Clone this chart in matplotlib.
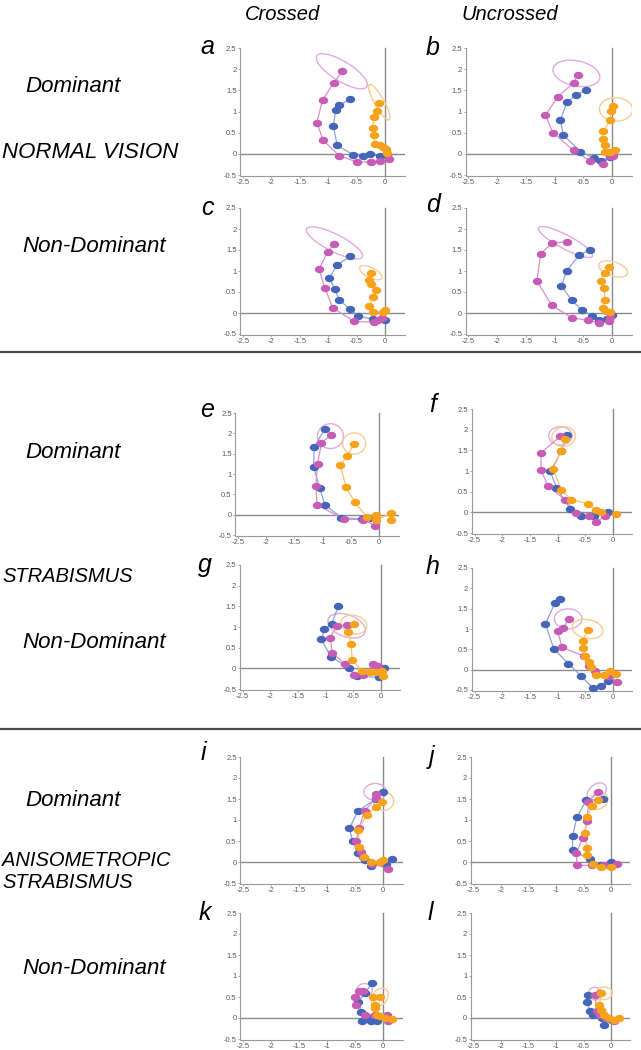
import matplotlib
matplotlib.use('Agg')
import matplotlib.pyplot as plt
from matplotlib.patches import Ellipse
import numpy as np

# ---------------- DATA ----------------
# each series: list of (x, y) in order from the origin outward
# ellipses: (cx, cy, width, height, angle)

a_blue = [(0.03, -0.03), (-0.09, -0.06), (-0.26, -0.01), (-0.38, -0.04), (-0.56, -0.02),
          (-0.84, 0.20), (-0.91, 0.65), (-0.87, 1.04), (-0.81, 1.15), (-0.62, 1.29)]
a_magenta = [(0.07, -0.13), (-0.08, -0.16), (-0.24, -0.20), (-0.50, -0.19), (-0.81, -0.04),
             (-1.09, 0.32), (-1.20, 0.74), (-1.10, 1.27), (-0.90, 1.68), (-0.75, 1.95)]
a_orange = [(0.03, 0.02), (0.02, 0.12), (-0.03, 0.16), (-0.09, 0.21), (-0.18, 0.23),
            (-0.19, 0.44), (-0.22, 0.62), (-0.19, 0.86), (-0.135, 1.02), (-0.10, 1.20)]
a_magenta_ell = (-0.76, 1.95, 1.15, 0.42, -42)
a_orange_ell = (-0.10, 1.22, 0.90, 0.18, -68)

b_blue = [(-0.04, -0.08), (-0.19, -0.16), (-0.32, -0.09), (-0.55, 0.05), (-0.85, 0.45),
          (-0.90, 0.80), (-0.78, 1.23), (-0.63, 1.38), (-0.45, 1.51)]
b_magenta = [(0.02, -0.04), (-0.04, -0.06), (-0.15, -0.23), (-0.38, -0.17), (-0.67, 0.08),
             (-1.03, 0.50), (-1.16, 0.92), (-0.94, 1.35), (-0.67, 1.68), (-0.60, 1.87)]
b_orange = [(0.05, 0.10), (-0.04, 0.05), (-0.12, 0.05), (-0.13, 0.21), (-0.16, 0.35),
            (-0.15, 0.55), (-0.03, 0.80), (-0.01, 1.01), (0.01, 1.12)]
b_magenta_ell = (-0.62, 1.90, 0.85, 0.58, -22)
b_orange_ell = (0.07, 1.05, 0.58, 0.55, -20)

c_blue = [(0.00, -0.16), (-0.22, -0.14), (-0.47, -0.08), (-0.62, 0.10), (-0.81, 0.32),
          (-0.88, 0.56), (-0.98, 0.83), (-0.85, 1.14), (-0.61, 1.35)]
c_magenta = [(-0.06, -0.13), (-0.13, -0.16), (-0.19, -0.22), (-0.54, -0.20), (-0.92, 0.12),
             (-1.06, 0.60), (-1.16, 1.04), (-1.01, 1.46), (-0.89, 1.64)]
c_orange = [(0.00, 0.08), (-0.03, 0.02), (-0.22, 0.02), (-0.28, 0.16), (-0.21, 0.38),
            (-0.15, 0.54), (-0.24, 0.69), (-0.29, 0.79), (-0.24, 0.95)]
c_magenta_ell = (-0.89, 1.67, 1.19, 0.38, -36)
c_orange_ell = (-0.25, 0.96, 0.47, 0.22, -38)

d_blue = [(0.00, -0.05), (-0.08, -0.14), (-0.22, -0.16), (-0.34, -0.06), (-0.52, 0.06),
          (-0.70, 0.30), (-0.88, 0.64), (-0.79, 1.01), (-0.57, 1.38), (-0.38, 1.51)]
d_magenta = [(-0.03, -0.10), (-0.06, -0.20), (-0.22, -0.24), (-0.42, -0.17), (-0.69, -0.12),
             (-1.05, 0.18), (-1.31, 0.77), (-1.24, 1.41), (-1.05, 1.66), (-0.79, 1.70)]
d_orange = [(-0.04, 0.03), (-0.10, 0.05), (-0.15, 0.11), (-0.12, 0.32), (-0.14, 0.59),
            (-0.19, 0.77), (-0.13, 0.96), (-0.05, 1.10)]
d_magenta_ell = (-0.81, 1.69, 1.16, 0.30, -37)
d_orange_ell = (0.02, 1.05, 0.55, 0.32, -30)

e_blue = [(-0.14, -0.09), (-0.30, -0.11), (-0.67, -0.07), (-0.96, 0.24), (-1.05, 0.65),
          (-1.16, 1.18), (-1.15, 1.66), (-0.96, 2.11)]
e_magenta = [(-0.07, -0.27), (-0.28, -0.12), (-0.62, -0.11), (-1.10, 0.24), (-1.12, 0.71),
             (-1.09, 1.24), (-1.02, 1.77), (-0.85, 1.96)]
e_orange = [(0.22, -0.14), (0.22, 0.04), (-0.06, -0.14), (-0.06, -0.02), (-0.22, -0.06),
            (-0.43, 0.31), (-0.58, 0.67), (-0.69, 1.22), (-0.56, 1.45), (-0.45, 1.73)]
e_magenta_ell = (-0.86, 1.93, 0.46, 0.61, 0)
e_orange_ell = (-0.44, 1.75, 0.41, 0.52, 0)

f_blue = [(-0.09, 0.02), (-0.34, -0.08), (-0.57, -0.10), (-0.77, 0.08), (-1.02, 0.59),
          (-1.13, 0.99), (-0.93, 1.49), (-0.83, 1.88)]
f_magenta = [(-0.15, -0.10), (-0.30, -0.23), (-0.43, -0.10), (-0.67, -0.02), (-0.87, 0.31),
             (-1.17, 0.63), (-1.30, 1.02), (-1.30, 1.44), (-0.95, 1.84)]
f_orange = [(0.06, -0.03), (-0.22, 0.02), (-0.31, 0.06), (-0.46, 0.21), (-0.75, 0.31),
            (-0.93, 0.53), (-1.08, 1.05), (-0.94, 1.49), (-0.86, 1.78)]
f_magenta_ell = (-0.95, 1.85, 0.42, 0.44, 0)
f_orange_ell = (-0.89, 1.83, 0.42, 0.48, -20)

g_blue = [(0.05, 0.00), (-0.04, -0.22), (-0.44, -0.19), (-0.57, 0.00), (-0.90, 0.28),
          (-1.08, 0.70), (-1.02, 0.94), (-0.89, 1.08), (-0.77, 1.50)]
g_magenta = [(-0.05, 0.06), (-0.14, 0.10), (-0.32, -0.15), (-0.49, -0.15), (-0.65, 0.10),
             (-0.88, 0.38), (-0.92, 0.74), (-0.80, 1.02), (-0.61, 1.05)]
g_orange = [(0.03, -0.18), (0.01, -0.06), (-0.09, -0.10), (-0.20, -0.10), (-0.35, -0.06),
            (-0.52, 0.21), (-0.54, 0.58), (-0.59, 0.88), (-0.48, 1.08)]
g_magenta_ell = (-0.62, 1.03, 0.75, 0.50, -35)
g_orange_ell = (-0.49, 1.06, 0.50, 0.42, -40)

h_blue = [(-0.09, -0.27), (-0.22, -0.41), (-0.37, -0.45), (-0.57, -0.16), (-0.81, 0.15),
          (-1.07, 0.52), (-1.22, 1.12), (-1.05, 1.64), (-0.96, 1.75)]
h_magenta = [(0.07, -0.31), (-0.09, -0.16), (-0.33, -0.04), (-0.43, 0.08), (-0.52, 0.33),
             (-0.92, 0.55), (-1.00, 0.96), (-0.90, 1.02), (-0.80, 1.25)]
h_orange = [(0.06, -0.10), (-0.06, -0.04), (-0.17, -0.14), (-0.30, -0.14), (-0.39, 0.07),
            (-0.43, 0.18), (-0.51, 0.34), (-0.54, 0.53), (-0.55, 0.71), (-0.45, 0.98)]
h_magenta_ell = (-0.81, 1.25, 0.50, 0.49, 0)
h_orange_ell = (-0.46, 1.00, 0.58, 0.45, -25)

i_blue = [(0.16, 0.06), (0.06, -0.04), (-0.22, -0.10), (-0.33, 0.04), (-0.45, 0.21),
          (-0.54, 0.49), (-0.60, 0.80), (-0.45, 1.21), (-0.12, 1.51), (0.00, 1.67)]
i_magenta = [(0.09, -0.16), (-0.20, -0.04), (-0.35, 0.12), (-0.39, 0.24), (-0.48, 0.49),
             (-0.43, 0.80), (-0.33, 1.21), (-0.12, 1.53), (-0.13, 1.63)]
i_orange = [(0.00, 0.04), (-0.06, 0.00), (-0.21, 0.00), (-0.34, 0.12), (-0.43, 0.36),
            (-0.44, 0.77), (-0.29, 1.13), (-0.12, 1.31), (-0.01, 1.43)]
i_magenta_ell = (-0.14, 1.67, 0.40, 0.40, 0)
i_orange_ell = (0.01, 1.45, 0.36, 0.44, 0)

j_blue = [(0.00, 0.00), (-0.18, -0.08), (-0.38, 0.06), (-0.70, 0.28), (-0.70, 0.61),
          (-0.62, 1.07), (-0.45, 1.47), (-0.15, 1.50)]
j_magenta = [(0.11, -0.04), (-0.13, -0.06), (-0.35, -0.08), (-0.62, -0.08), (-0.63, 0.22),
             (-0.51, 0.57), (-0.43, 0.98), (-0.41, 1.43), (-0.24, 1.67)]
j_orange = [(0.00, -0.12), (-0.18, -0.12), (-0.32, -0.04), (-0.44, 0.16), (-0.44, 0.34),
            (-0.47, 0.69), (-0.44, 1.06), (-0.34, 1.33), (-0.24, 1.47)]
j_magenta_ell = (-0.26, 1.67, 0.30, 0.46, -30)
j_orange_ell = (-0.23, 1.45, 0.32, 0.42, -30)

k_blue = [(-0.10, -0.06), (-0.22, -0.06), (-0.38, -0.06), (-0.30, 0.04), (-0.39, 0.14),
          (-0.44, 0.39), (-0.32, 0.59), (-0.20, 0.83)]
k_magenta = [(0.09, -0.08), (0.08, 0.08), (-0.14, 0.06), (-0.32, 0.06), (-0.49, 0.30),
             (-0.50, 0.51), (-0.42, 0.65), (-0.35, 0.65)]
k_orange = [(0.16, -0.02), (0.04, 0.00), (-0.05, 0.04), (-0.11, 0.08), (-0.14, 0.24),
            (-0.15, 0.31), (-0.18, 0.50), (-0.05, 0.50)]
k_magenta_ell = (-0.33, 0.67, 0.28, 0.30, 0)
k_orange_ell = (-0.06, 0.49, 0.28, 0.46, -20)

l_blue = [(0.02, -0.04), (-0.12, -0.16), (-0.16, 0.00), (-0.33, 0.06), (-0.38, 0.17),
          (-0.44, 0.39), (-0.41, 0.55)]
l_magenta = [(0.05, -0.06), (-0.10, 0.00), (-0.20, 0.08), (-0.26, 0.16), (-0.29, 0.55),
             (-0.20, 0.59)]
l_orange = [(0.14, 0.00), (0.05, -0.04), (-0.04, 0.00), (-0.13, 0.08), (-0.18, 0.20),
            (-0.21, 0.31), (-0.18, 0.59)]
l_magenta_ell = (-0.29, 0.58, 0.25, 0.30, 0)
l_orange_ell = (-0.12, 0.59, 0.28, 0.30, 0)

x_ticks = [-2.5, -2, -1.5, -1, -0.5, 0]
x_tick_labels = ['-2.5', '-2', '-1.5', '-1', '-0.5', '0']
y_ticks = [-0.5, 0, 0.5, 1, 1.5, 2, 2.5]
y_tick_labels = ['-0.5', '0', '0.5', '1', '1.5', '2', '2.5']

column_titles = ['Crossed', 'Uncrossed']
row_texts = ['Dominant', 'NORMAL VISION', 'Non-Dominant',
             'Dominant', 'STRABISMUS', 'Non-Dominant',
             'Dominant', 'ANISOMETROPIC', 'STRABISMUS', 'Non-Dominant']

# ---------------- STYLE ----------------
C_BLUE, L_BLUE = '#4565b8', '#8da3d6'
C_MAG, L_MAG = '#c65cb6', '#d98fce'
C_ORA, L_ORA = '#f7a21b', '#f9c274'
E_MAG, E_ORA = '#e3abdc', '#f9cc93'
AX_GRAY = '#9a9a9a'
TXT_FAMILY = ['Liberation Sans', 'DejaVu Sans']

W, H = 641, 1050
fig = plt.figure(figsize=(W / 100, H / 100), dpi=100)

t = np.linspace(0, 2 * np.pi, 48)
ELL_MARKER = np.column_stack([np.cos(t), 0.78 * np.sin(t)])

XMIN, XMAX = -2.55, 0.35
YMIN, YMAX = -0.52, 2.52


def add_axes_px(x0px, ppu, ytop, ybot):
    ppy = (ybot - ytop) / 3.0
    left = x0px + XMIN * ppu
    right = x0px + XMAX * ppu
    top = ytop - (YMAX - 2.5) * ppy
    bottom = ybot + (-0.5 - YMIN) * ppy
    ax = fig.add_axes([left / W, 1 - bottom / H, (right - left) / W, (bottom - top) / H])
    ax.set_xlim(XMIN, XMAX)
    ax.set_ylim(YMIN, YMAX)
    ax.patch.set_alpha(0)
    for s in ['top', 'right']:
        ax.spines[s].set_visible(False)
    for s in ['left', 'bottom']:
        ax.spines[s].set_color(AX_GRAY)
        ax.spines[s].set_linewidth(0.8)
    ax.spines['left'].set_bounds(-0.5, 2.5)
    ax.set_xticks(x_ticks)
    ax.set_xticklabels(x_tick_labels)
    ax.set_yticks(y_ticks)
    ax.set_yticklabels(y_tick_labels)
    ax.tick_params(length=1.5, width=0.6, color=AX_GRAY, labelsize=5.5,
                   labelcolor='#5a5a5a', pad=1.0)
    for lab in ax.get_xticklabels() + ax.get_yticklabels():
        lab.set_family(TXT_FAMILY)
    ax.axhline(0, color='#8a8a8a', lw=1.0, zorder=1)
    ax.plot([0, 0], [-0.5, 2.5], color='#8a8a8a', lw=1.0, zorder=1)
    return ax


def draw_series(ax, pts, lc, mc):
    xs = [p[0] for p in pts]
    ys = [p[1] for p in pts]
    ax.plot(xs, ys, color=lc, lw=0.9, zorder=2, clip_on=False)
    ax.plot(xs, ys, ls='none', marker=ELL_MARKER, ms=6.8, color=mc,
            markeredgewidth=0, zorder=3, clip_on=False)


def draw_ell(ax, e, col):
    cx, cy, w, h, ang = e
    ax.add_patch(Ellipse((cx, cy), w, h, angle=ang, fill=False, ec=col, lw=1.0, zorder=2))


panels = [
    # letter, x0px, ppu, y(2.5)px, y(-0.5)px, blue, magenta, orange, mag ellipse, orange ellipse
    ('a', 385, 56.8, 48, 175, a_blue, a_magenta, a_orange, a_magenta_ell, a_orange_ell),
    ('b', 612, 57.4, 48, 175, b_blue, b_magenta, b_orange, b_magenta_ell, b_orange_ell),
    ('c', 385, 56.8, 208, 334, c_blue, c_magenta, c_orange, c_magenta_ell, c_orange_ell),
    ('d', 612, 57.4, 208, 334, d_blue, d_magenta, d_orange, d_magenta_ell, d_orange_ell),
    ('e', 379, 56.4, 413, 535, e_blue, e_magenta, e_orange, e_magenta_ell, e_orange_ell),
    ('f', 613, 55.4, 409, 533, f_blue, f_magenta, f_orange, f_magenta_ell, f_orange_ell),
    ('g', 381, 55.4, 565, 689, g_blue, g_magenta, g_orange, g_magenta_ell, g_orange_ell),
    ('h', 613, 55.4, 568, 690, h_blue, h_magenta, h_orange, h_magenta_ell, h_orange_ell),
    ('i', 383, 56.0, 757, 883, i_blue, i_magenta, i_orange, i_magenta_ell, i_orange_ell),
    ('j', 611, 55.0, 757, 883, j_blue, j_magenta, j_orange, j_magenta_ell, j_orange_ell),
    ('k', 383, 56.0, 913, 1039, k_blue, k_magenta, k_orange, k_magenta_ell, k_orange_ell),
    ('l', 611, 55.0, 913, 1039, l_blue, l_magenta, l_orange, l_magenta_ell, l_orange_ell),
]

letter_pos = {'a': (207, 47), 'b': (433, 48), 'c': (207, 208), 'd': (433, 205),
              'e': (207, 410), 'f': (433, 405), 'g': (205, 565), 'h': (433, 567),
              'i': (203, 753), 'j': (432, 757), 'k': (205, 913), 'l': (430, 913)}

for (let, x0, ppu, yt, yb, bl, mg, orr, me, oe) in panels:
    ax = add_axes_px(x0, ppu, yt, yb)
    draw_ell(ax, me, E_MAG)
    draw_ell(ax, oe, E_ORA)
    draw_series(ax, bl, L_BLUE, C_BLUE)
    draw_series(ax, mg, L_MAG, C_MAG)
    draw_series(ax, orr, L_ORA, C_ORA)
    lx, ly = letter_pos[let]
    fig.text(lx / W, 1 - ly / H, let, fontsize=18, style='italic', family=TXT_FAMILY,
             ha='center', va='center')


def ftext(x, y, s, size=16, **kw):
    fig.text(x / W, 1 - y / H, s, family=TXT_FAMILY, style='italic', fontsize=size,
             va='center', **kw)


ftext(283, 14, column_titles[0], size=14.5, ha='center')
ftext(510, 14, column_titles[1], size=14.5, ha='center')

row_pos = [(25, 87), (2, 153), (22, 246),
           (25, 452), (2, 577), (22, 642),
           (25, 800), (2, 860), (2, 883), (22, 968)]
row_sizes = [16, 16, 16, 16, 14.5, 16, 16, 14.5, 14.5, 16]
for (rx, ry), s, sz in zip(row_pos, row_texts, row_sizes):
    ftext(rx, ry, s, size=sz)

for yy in (352, 729):
    fig.add_artist(plt.Line2D([0, 1], [1 - yy / H, 1 - yy / H], color='#4a4a4a', lw=1.6))

fig.savefig('out.png', dpi=100)
